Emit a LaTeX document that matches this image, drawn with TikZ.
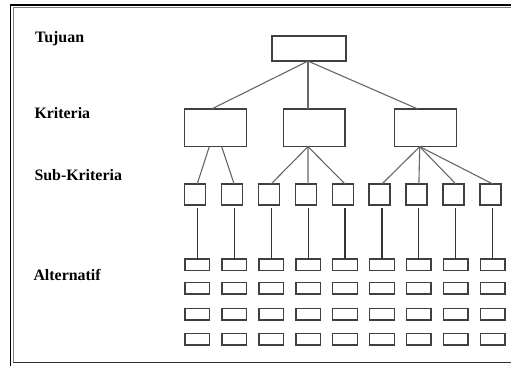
\documentclass[tikz,border=0pt]{standalone}
\usepackage{fontspec}
\setmainfont{Liberation Serif}
\usetikzlibrary{calc}
\begin{document}
\begin{tikzpicture}[x=1pt,y=-1pt,
  box/.style={draw=black!75,line width=1.2pt,inner sep=0pt,outer sep=0pt,rectangle,fill=white},
  conn/.style={draw=black!60,line width=1.1pt},
  vconn/.style={draw=black!80,line width=1.1pt},
  lbl/.style={font=\bfseries\fontsize{15.9}{18}\selectfont,anchor=base west,inner sep=0pt}]
\useasboundingbox (0,0) rectangle (511,366);
% frame
\draw[black,line width=1.3pt] (10.7,366) -- (10.7,5) -- (511,5);
\draw[black!50,line width=1.2pt] (511,7.8) -- (13.2,7.8) -- (13.2,362.6);
\draw[black!80,line width=1.3pt] (12.6,362.6) -- (511,362.6);
% labels
\node[lbl] (lt) at (35,42.3) {Tujuan};
\node[lbl] (lk) at (34.3,119) {Kriteria};
\node[lbl] (ls) at (34.3,181) {Sub-Kriteria};
\node[lbl] (la) at (33.3,280) {Alternatif};
% goal
\node[box,minimum width=74,minimum height=25] (t) at (309,48.6) {};
% criteria
\node[box,minimum width=62,minimum height=37.7] (k1) at (215.3,127.8) {};
\node[box,minimum width=61.7,minimum height=37.7] (k2) at (314.2,127.8) {};
\node[box,minimum width=62,minimum height=37.7] (k3) at (425.3,127.8) {};
% sub-criteria and alternatives
\foreach \i in {1,...,9} {
  \pgfmathsetmacro\cx{197.2+36.95*(\i-1)}
  \node[box,minimum size=21] (s\i) at (\cx-2.4,194.5) {};
  \foreach \r/\ry in {1/264.8,2/288.2,3/314.2,4/339.2}
    \node[box,minimum width=24.3,minimum height=11.7] (a\i-\r) at (\cx,\ry) {};
  \draw[vconn] (a\i-1.north) -- ($(a\i-1.north |- s\i.south)+(0,3.3)$);
}
% goal to criteria
\coordinate (tb) at ($(t.south)+(-1,0)$);
\draw[conn] (tb) -- ($(k1.north)+(-3.6,0)$);
\draw[conn] (tb) -- ($(k2.north)+(-6.2,0)$);
\draw[conn] (tb) -- ($(k3.north)+(-7.6,0)$);
% criteria to sub-criteria
\draw[conn] ($(k1.south)+(-6,0)$) -- (a1-1.north |- s1.north);
\draw[conn] ($(k1.south)+(6.4,0)$) -- (a2-1.north |- s2.north);
\coordinate (k2b) at ($(k2.south)+(-6.2,0)$);
\foreach \i in {3,4,5} \draw[conn] (k2b) -- (a\i-1.north |- s\i.north);
\coordinate (k3b) at ($(k3.south)+(-5.6,0)$);
\foreach \i in {6,7,8,9} \draw[conn] (k3b) -- (a\i-1.north |- s\i.north);
\end{tikzpicture}
\end{document}
